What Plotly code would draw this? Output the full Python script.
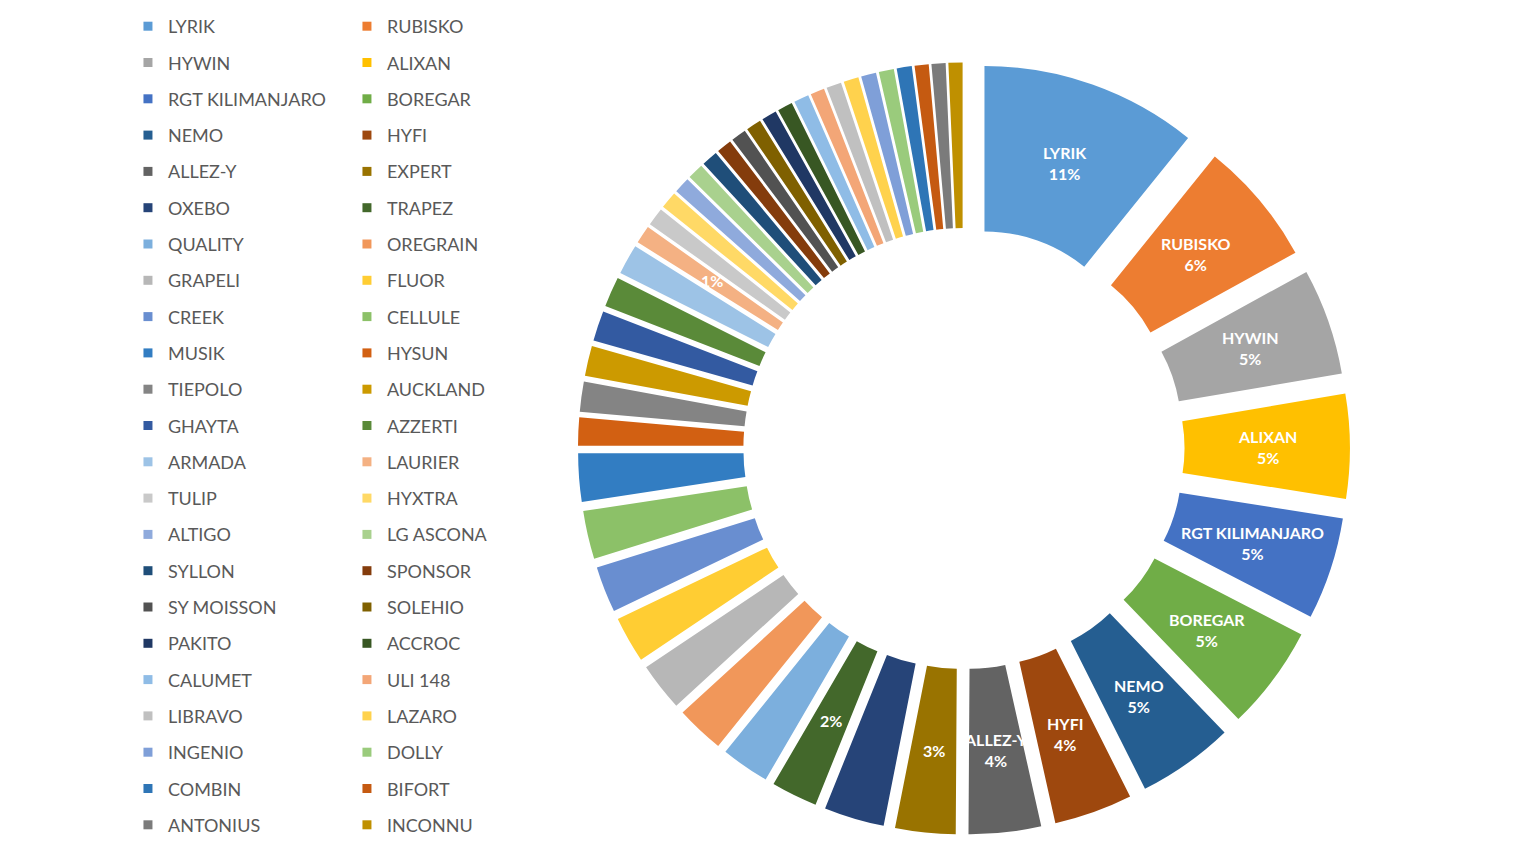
import math
import plotly.graph_objects as go

# varieties, in chart order (clockwise from 12 o'clock)
labels = ["LYRIK", "RUBISKO", "HYWIN", "ALIXAN", "RGT KILIMANJARO", "BOREGAR",
          "NEMO", "HYFI", "ALLEZ-Y", "EXPERT", "OXEBO", "TRAPEZ",
          "QUALITY", "OREGRAIN", "GRAPELI", "FLUOR", "CREEK", "CELLULE",
          "MUSIK", "HYSUN", "TIEPOLO", "AUCKLAND", "GHAYTA", "AZZERTI",
          "ARMADA", "LAURIER", "TULIP", "HYXTRA", "ALTIGO", "LG ASCONA",
          "SYLLON", "SPONSOR", "SY MOISSON", "SOLEHIO", "PAKITO", "ACCROC",
          "CALUMET", "ULI 148", "LIBRAVO", "LAZARO", "INGENIO", "DOLLY",
          "COMBIN", "BIFORT", "ANTONIUS", "INCONNU"]

# share of each variety (%)
shares = [10.8, 6.2, 5.3, 5.2, 5.1, 5.2,
          4.8, 3.9, 3.6, 3.0, 3.0, 2.3,
          2.4, 2.4, 2.4, 2.3, 2.3, 2.4,
          2.4, 1.4, 1.5, 1.5, 1.5, 1.5,
          1.5, 0.9, 0.9, 0.85, 0.8, 0.8,
          0.8, 0.75, 0.75, 0.75, 0.75, 0.75,
          0.75, 0.7, 0.75, 0.75, 0.75, 0.75,
          0.75, 0.7, 0.7, 0.7]

# office palette, cycled the way the spreadsheet does it
colors = ["#5B9BD5", "#ED7D31", "#A5A5A5", "#FFC000", "#4472C4", "#70AD47",
          "#255E91", "#9E480E", "#636363", "#997300", "#264478", "#43682B",
          "#7CAFDD", "#F1975A", "#B7B7B7", "#FFCD33", "#698ED0", "#8CC168",
          "#327DC2", "#D26012", "#848484", "#CC9A00", "#335AA1", "#5A8A39",
          "#9DC3E6", "#F4B183", "#C9C9C9", "#FFD966", "#8FAADC", "#A9D18E",
          "#1F4E79", "#843C0C", "#525252", "#7F6000", "#203864", "#385723",
          "#8FBCE6", "#F3A677", "#C0C0C0", "#FFD24D", "#7F9FD8", "#9ACB7C",
          "#2E75B6", "#C55A11", "#7B7B7B", "#BF9000"]

# which slices carry a data label
named = labels[:9]
pct_only = ["EXPERT", "TRAPEZ", "LAURIER"]

W, H = 1540, 866
HOLE = 0.49
PULL = 0.19
DOM_X = [0.3701, 0.8714]
DOM_Y = [0.0450, 0.9376]

fig = go.Figure()

fig.add_trace(go.Pie(
    labels=labels,
    values=shares,
    sort=False,
    direction="clockwise",
    rotation=0,
    hole=HOLE,
    pull=PULL,
    marker=dict(colors=colors),
    textinfo="none",
    domain=dict(x=DOM_X, y=DOM_Y),
    showlegend=False,
))

# data labels sit in the middle of the ring, like the spreadsheet puts them
cx = (DOM_X[0] + DOM_X[1]) / 2 * W
cy = (1 - (DOM_Y[0] + DOM_Y[1]) / 2) * H
r = min((DOM_X[1] - DOM_X[0]) * W, (DOM_Y[1] - DOM_Y[0]) * H) / 2 / (1 + PULL)
rho = PULL * r + r * (1 + HOLE) / 2
total = sum(shares)
cum = 0
for name, v in zip(labels, shares):
    mid = 2 * math.pi * (cum + v / 2) / total
    cum += v
    pct = "%d%%" % round(100 * v / total)
    if name in named:
        txt = name + "<br>" + pct
    elif name in pct_only:
        txt = pct
    else:
        continue
    fig.add_annotation(
        x=(cx + rho * math.sin(mid)) / W, y=1 - (cy - rho * math.cos(mid)) / H,
        xref="paper", yref="paper", xanchor="center", yanchor="middle",
        text=txt, showarrow=False,
        font=dict(family="Lato", size=16, color="white", weight="bold"),
        align="center",
    )

# legend in two columns: one legend per column, fed by empty marker traces
for i, (name, col) in enumerate(zip(labels, colors)):
    fig.add_trace(go.Scatter(
        x=[None], y=[None], mode="markers", name=name,
        marker=dict(symbol="square", size=9, color=col),
        legend="legend" if i % 2 == 0 else "legend2",
        legendgroup=name,
        hoverinfo="skip",
    ))

leg_style = dict(
    xanchor="left", yanchor="top", y=1.0,
    traceorder="grouped", tracegroupgap=9.9,
    font=dict(family="Lato", size=18, color="#595959"),
    bgcolor="rgba(0,0,0,0)", itemsizing="trace",
)

fig.update_layout(
    width=W, height=H,
    margin=dict(l=0, r=0, t=0, b=0),
    paper_bgcolor="white", plot_bgcolor="white",
    xaxis=dict(visible=False), yaxis=dict(visible=False),
    legend=dict(x=0.0779, **leg_style),
    legend2=dict(x=0.2201, **leg_style),
)

fig.write_html("out.html")
